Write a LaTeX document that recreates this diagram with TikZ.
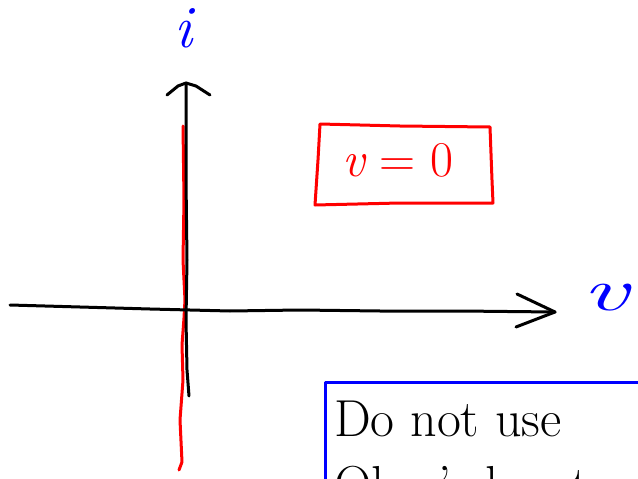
\documentclass[tikz,border=0pt]{standalone}
\usepackage{fontspec}
\begin{document}
\begin{tikzpicture}[x=1pt,y=-1pt,
  ink/.style={line width=3pt,line cap=round,line join=round},
  axisline/.style={ink,black},
  redink/.style={ink,red},
  blueink/.style={ink,blue},
  lbl/.style={inner sep=0pt,anchor=center}]
\useasboundingbox (0,0) rectangle (638,479);
\clip (0,0) rectangle (638,479);
% blue i label
\node[lbl,blue,font=\fontsize{60}{60}\selectfont\itshape] (ilbl) at (183,28) {i};
% red vertical line (v = 0)
\draw[redink] (183,126) -- (184,200) -- (183,260) -- (185,300) -- (184,318) -- (182,345) -- (183,380) -- (180,420) -- (182,462) -- (179,470);
% vertical axis
\coordinate (ytop) at (186,83);
\coordinate (ybot) at (189,396);
\draw[axisline] (ybot) -- (187,370) -- (186,320) -- (187,260) -- (186,180) -- (ytop);
\draw[axisline] (167,95) -- (178,86) -- (ytop) -- (196,86) -- (210,95);
% horizontal axis
\coordinate (xleft) at (10,305);
\coordinate (xright) at (555,312);
\draw[axisline] (xleft) -- (80,307) -- (150,309) -- (230,311) -- (300,310) -- (380,311) -- (460,311) -- (xright);
\draw[axisline] (517,294) -- (xright) -- (516,327);
% blue v label
\node[lbl,blue,xscale=1.7,font=\fontsize{60}{60}\selectfont\itshape] (vlbl) at (605,298) {v};
% red box with v = 0
\draw[redink] (320,124) -- (400,126) -- (490,127) -- (492,180) -- (493,203) -- (400,203) -- (315,205) -- (318,160) -- cycle;
\node[lbl,red,font=\fontsize{50}{50}\selectfont] (cond) at (398,160) {\itshape v\upshape\ = 0};
% blue box with note
\draw[blueink] (325,480) -- (325,382) -- (645,382);
\node[inner sep=0pt,anchor=north west,align=left,font=\fontsize{52}{66}\selectfont] (note) at (334,401)
  {Do not use\\ Ohm's law to};
\end{tikzpicture}
\end{document}
